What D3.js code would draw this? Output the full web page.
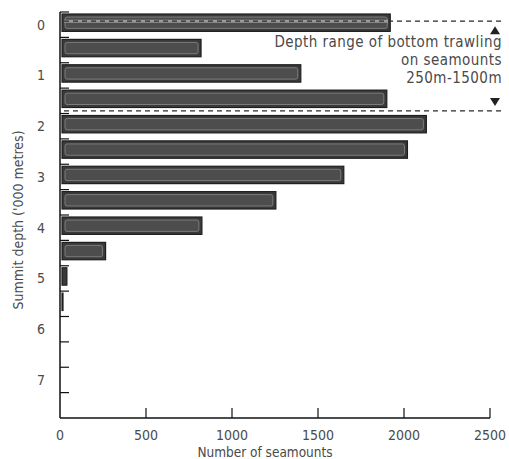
<!DOCTYPE html>
<html><head><meta charset="utf-8">
<script src="https://cdn.jsdelivr.net/npm/d3@7"></script>
<style>
body{margin:0;background:#fff;}
text{font-family:"Liberation Sans Narrow","DejaVu Sans Condensed",sans-serif;fill:#4a4a4a;}
</style></head>
<body><svg id="c" width="509" height="459"></svg>
<script>
// Bin start depths ('000 m), 0.5 km bins
const binStarts = [0,0.5,1,1.5,2,2.5,3,3.5,4,4.5,5,5.5,6,6.5,7,7.5];
const counts    = [1920,820,1400,1900,2130,2020,1650,1255,825,265,40,15,0,0,0,0];
const xTicks = [0,500,1000,1500,2000,2500];
const yLabels = [0,1,2,3,4,5,6,7];
const trawlLines = [0.18, 1.95];
const noteLines = ["Depth range of bottom trawling","on seamounts","250m-1500m"];

const svg = d3.select("#c");
const x = d3.scaleLinear().domain([0,2500]).range([60,490]);
const y = d3.scaleLinear().domain([0,8]).range([12,418]);
const binH = y(0.5)-y(0);

// bars
const bars = svg.append("g");
const data = binStarts.map((b,i)=>({b, v:counts[i]})).filter(d=>d.v>0);
bars.selectAll("rect.o").data(data).enter().append("rect")
  .attr("x", x(0)+2).attr("y", d=>y(d.b)+2)
  .attr("width", d=>Math.max(1,x(d.v)-x(0)-2)).attr("height", binH-8)
  .attr("fill","#3a3a3a").attr("stroke","#1e1e1e").attr("stroke-width",1.2);
bars.selectAll("rect.i").data(data.filter(d=>x(d.v)-x(0)>10)).enter().append("rect")
  .attr("x", x(0)+5).attr("y", d=>y(d.b)+5)
  .attr("width", d=>x(d.v)-x(0)-8).attr("height", binH-14)
  .attr("fill","#4d4d4d").attr("stroke","#8a8a8a").attr("stroke-width",0.8).attr("rx",2);

// y axis
svg.append("line").attr("x1",x(0)).attr("x2",x(0)).attr("y1",y(0)).attr("y2",y(8))
  .attr("stroke","#111").attr("stroke-width",1.5);
svg.selectAll("line.yt").data(d3.range(0,8,0.5)).enter().append("line")
  .attr("x1",x(0)).attr("x2",x(0)+9).attr("y1",d=>y(d)).attr("y2",d=>y(d))
  .attr("stroke","#111").attr("stroke-width",1.2);
svg.selectAll("text.yl").data(yLabels).enter().append("text")
  .attr("x",45).attr("y",d=>y(d+0.25)+5).attr("text-anchor","end")
  .attr("font-size",14).text(d=>d);

// x axis
svg.append("line").attr("x1",x(0)).attr("x2",x(2500)).attr("y1",y(8)).attr("y2",y(8))
  .attr("stroke","#111").attr("stroke-width",1.5);
svg.selectAll("line.xt").data(xTicks.slice(1)).enter().append("line")
  .attr("x1",d=>x(d)).attr("x2",d=>x(d)).attr("y1",y(8)).attr("y2",y(8)-10)
  .attr("stroke","#111").attr("stroke-width",1.2);
svg.selectAll("text.xl").data(xTicks).enter().append("text")
  .attr("x",d=>x(d)).attr("y",440).attr("text-anchor","middle")
  .attr("font-size",14).text(d=>d);
svg.append("text").attr("x",265).attr("y",457).attr("text-anchor","middle")
  .attr("font-size",13.5).text("Number of seamounts");
svg.append("text").attr("transform","translate(23,220) rotate(-90)")
  .attr("text-anchor","middle").attr("font-size",14).text("Summit depth ('000 metres)");

// trawl depth lines
trawlLines.forEach((d,i)=>{
  if(i===0){
    svg.append("line").attr("x1",x(0)+4).attr("x2",x(counts[0])-2).attr("y1",y(d)).attr("y2",y(d))
      .attr("stroke","#9a9a9a").attr("stroke-width",3);
  }
  svg.append("line").attr("x1",x(0)+4).attr("x2",502).attr("y1",y(d)).attr("y2",y(d))
    .attr("stroke","#2a2a2a").attr("stroke-width",1.3).attr("stroke-dasharray","5,4");
});
// arrows
const ax = 495;
svg.append("path").attr("d",`M${ax-5},${y(trawlLines[0])+13}L${ax+5},${y(trawlLines[0])+13}L${ax},${y(trawlLines[0])+5}Z`).attr("fill","#222");
svg.append("path").attr("d",`M${ax-5},${y(trawlLines[1])-13}L${ax+5},${y(trawlLines[1])-13}L${ax},${y(trawlLines[1])-5}Z`).attr("fill","#222");
svg.selectAll("text.note").data(noteLines).enter().append("text")
  .attr("x",502).attr("y",(d,i)=>47+i*18).attr("text-anchor","end")
  .attr("font-size",15).attr("letter-spacing",0.45).text(d=>d);
</script></body></html>
